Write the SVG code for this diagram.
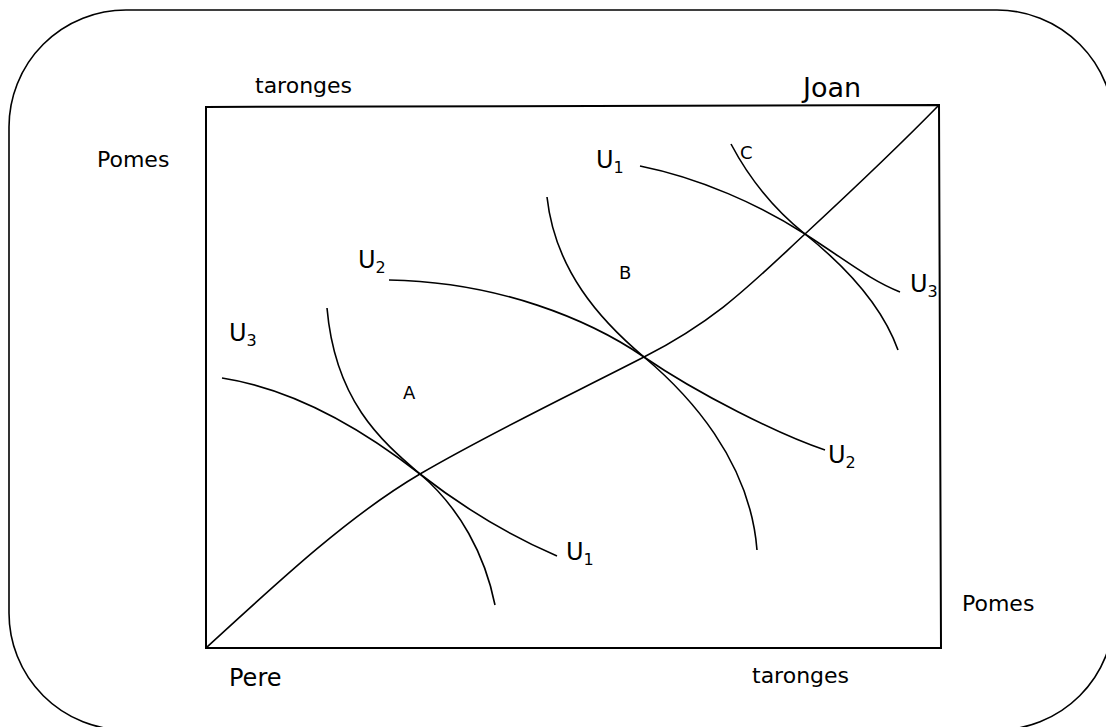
<svg xmlns="http://www.w3.org/2000/svg" width="1106" height="727" viewBox="0 0 1106 727">
<style>
.ln{fill:none;stroke:#000;stroke-width:1.6}
.box{fill:none;stroke:#000;stroke-width:2}
text{font-family:"DejaVu Sans","Liberation Sans",sans-serif;fill:#000}
.lab{font-size:22px}
.u{font-size:24px}
.sub{font-size:16px}
.pt{font-size:18px}
</style>
<rect x="0" y="0" width="1106" height="727" fill="#fff"/>
<g id="frame"><rect x="9" y="10" width="1105" height="720" rx="117" ry="117" class="ln"/></g>
<g id="edgebox"><path d="M206,107 L939,105 L941,648 L206,648 Z" class="box"/></g>
<g id="connectors">
<path id="contract" class="ln" d="M206,648 C280,580 350,515 420,474 S570,395 644,357 S750,285 805,234 S900,145 939,105"/>
<path id="A-flat" class="ln" d="M222,378 C300,390 370,435 420,474 S520,540 557,556"/>
<path id="A-steep" class="ln" d="M327,308 C335,400 380,440 420,474 S485,555 495,605"/>
<path id="B-flat" class="ln" d="M389,280 C500,282 590,320 644,357 S780,435 825,450"/>
<path id="B-steep" class="ln" d="M547,197 C555,270 600,320 644,357 S750,460 757,550"/>
<path id="C-flat" class="ln" d="M640,166 C700,178 760,205 805,234 S870,280 900,292"/>
<path id="C-steep" class="ln" d="M731,144 C750,180 775,210 805,234 S880,300 898,350"/>
</g>
<g id="labels">
<text class="lab" x="255" y="93">taronges</text>
<text x="803" y="97" style="font-size:27px">Joan</text>
<text class="lab" x="97" y="167">Pomes</text>
<text x="229" y="686" style="font-size:24px">Pere</text>
<text class="lab" x="752" y="683">taronges</text>
<text class="lab" x="962" y="611">Pomes</text>
</g>
<g id="points">
<text class="pt" x="403" y="399">A</text>
<text class="pt" x="619" y="279">B</text>
<text class="pt" x="740" y="159">C</text>
</g>
<g id="utility-labels">
<text class="u" x="596" y="168">U<tspan class="sub" dy="5">1</tspan></text>
<text class="u" x="358" y="268">U<tspan class="sub" dy="5">2</tspan></text>
<text class="u" x="229" y="341">U<tspan class="sub" dy="5">3</tspan></text>
<text class="u" x="910" y="292">U<tspan class="sub" dy="5">3</tspan></text>
<text class="u" x="566" y="560">U<tspan class="sub" dy="5">1</tspan></text>
<text class="u" x="828" y="463">U<tspan class="sub" dy="5">2</tspan></text>
</g>
</svg>
